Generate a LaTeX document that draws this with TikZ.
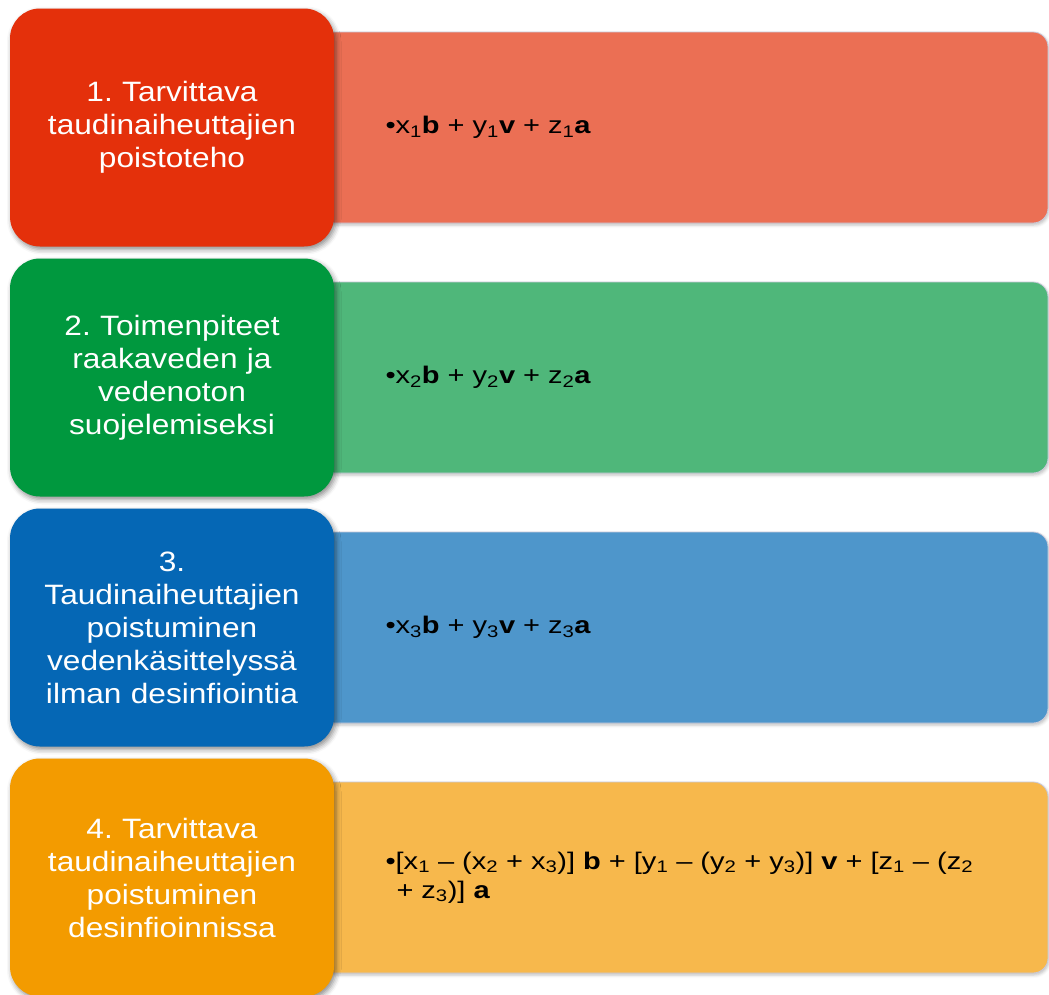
\documentclass[tikz,border=0pt]{standalone}
\usepackage{fontspec}
\setmainfont{Liberation Sans}
\newfontfamily\taskfont[FakeStretch=1.13]{Liberation Sans}
\newfontfamily\eqfont[FakeStretch=1.21]{Liberation Sans}
\usetikzlibrary{shadows.blur}

\definecolor{redA}{HTML}{E4300B}
\definecolor{redB}{HTML}{EB6F54}
\definecolor{greenA}{HTML}{00983E}
\definecolor{greenB}{HTML}{4FB77A}
\definecolor{blueA}{HTML}{0567B5}
\definecolor{blueB}{HTML}{4E96CB}
\definecolor{orangeA}{HTML}{F39B00}
\definecolor{orangeB}{HTML}{F7B84C}
\definecolor{rim}{HTML}{C9C9DA}

\frenchspacing

\begin{document}
\begin{tikzpicture}[x=1pt, y=-1pt, node distance=250pt,
    task/.style={rectangle, rounded corners=30pt, minimum width=324pt, minimum height=238pt, text width=310pt, inner sep=0pt, align=center, text=white, font=\taskfont\fontsize{28}{33}\selectfont, blur shadow={shadow xshift=2pt, shadow yshift=-3pt, shadow blur radius=5pt, shadow opacity=45}},
    eqbox/.style={rectangle, rounded corners=15pt, draw=rim, line width=0.8pt, minimum width=728pt, minimum height=191pt, text width=597pt, inner xsep=65pt, align=left, font=\eqfont\fontsize{24}{29}\selectfont, blur shadow={shadow xshift=1pt, shadow yshift=-2pt, shadow blur radius=3pt, shadow opacity=25}}]

    \useasboundingbox (0,0) rectangle (1049,994);

    \node[eqbox, fill=redB] (eq1) at (684,127.5) {\textbullet x\textsubscript{1}\textbf{b} + y\textsubscript{1}\textbf{v} + z\textsubscript{1}\textbf{a}};
    \node[eqbox, fill=greenB, below of=eq1] (eq2) {\textbullet x\textsubscript{2}\textbf{b} + y\textsubscript{2}\textbf{v} + z\textsubscript{2}\textbf{a}};
    \node[eqbox, fill=blueB, below of=eq2] (eq3) {\textbullet x\textsubscript{3}\textbf{b} + y\textsubscript{3}\textbf{v} + z\textsubscript{3}\textbf{a}};
    \node[eqbox, fill=orangeB, below of=eq3] (eq4) {\textbullet[x\textsubscript{1} – (x\textsubscript{2} + x\textsubscript{3})] \textbf{b} + [y\textsubscript{1} – (y\textsubscript{2} + y\textsubscript{3})] \textbf{v} + [z\textsubscript{1} – (z\textsubscript{2}\\\hspace*{11pt}+ z\textsubscript{3})] \textbf{a}};

    \node[task, fill=redA, left of=eq1, node distance=512pt] (task1) {1. Tarvittava\\taudinaiheuttajien\\poistoteho};
    \node[task, fill=greenA, left of=eq2, node distance=512pt] (task2) {2. Toimenpiteet\\raakaveden ja\\vedenoton\\suojelemiseksi};
    \node[task, fill=blueA, left of=eq3, node distance=512pt] (task3) {3.\\Taudinaiheuttajien\\poistuminen\\vedenkäsittelyssä\\ilman desinfiointia};
    \node[task, fill=orangeA, left of=eq4, node distance=512pt] (task4) {4. Tarvittava\\taudinaiheuttajien\\poistuminen\\desinfioinnissa};

\end{tikzpicture}
\end{document}
